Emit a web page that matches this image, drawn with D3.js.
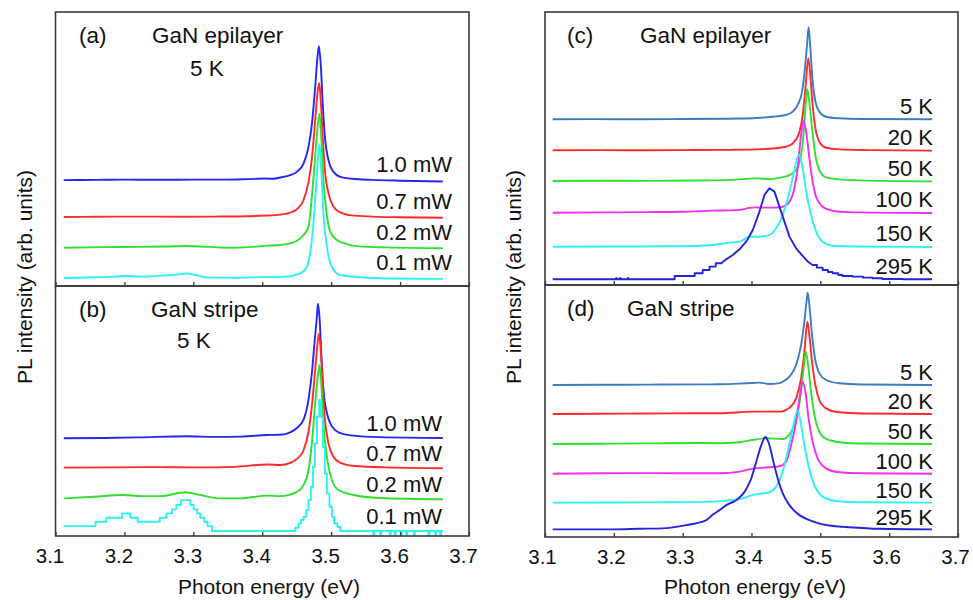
<!DOCTYPE html>
<html>
<head>
<meta charset="utf-8">
<script src="https://cdn.jsdelivr.net/npm/d3@7"></script>
<style>
body { margin: 0; background: #fff; }
svg { font-family: "Liberation Sans", Arial, sans-serif; }
</style>
</head>
<body>
<svg id="chart" width="973" height="600"></svg>
<script>
// x ticks (eV)
var energyTicks = [3.1, 3.2, 3.3, 3.4, 3.5, 3.6, 3.7];

var powerLabels = ["1.0 mW", "0.7 mW", "0.2 mW", "0.1 mW"];
var tempLabels = ["5 K", "20 K", "50 K", "100 K", "150 K", "295 K"];

// vertical shift of each trace (arb. units, peak normalised to 1)
var epiPowerOffsets = [0.79, 0.515, 0.286, 0.06];
var stripePowerOffsets = [0.734, 0.51, 0.276, 0.037];
var epiTempOffsets = [1.801, 1.464, 1.13, 0.786, 0.416, 0.062];
var stripeTempOffsets = [1.647, 1.333, 1.008, 0.686, 0.372, 0.083];

// (a) GaN epilayer, 5 K, power series  [energy eV, intensity]
var epi10mW = [[3.112,0],[3.16,0.002],[3.2,0.004],[3.25,0.003],[3.3,0.004],[3.35,0.004],[3.38,0.008],[3.405,0.012],[3.415,0.01],[3.426,0.02],[3.4406,0.037],[3.4503,0.062],[3.4599,0.124],[3.4671,0.248],[3.4721,0.42],[3.4768,0.696],[3.4802,0.92],[3.4822,1.0],[3.4851,0.846],[3.488,0.547],[3.4913,0.3],[3.4961,0.149],[3.5034,0.062],[3.5131,0.025],[3.53,0.01],[3.56,0.002],[3.6,-0.004],[3.662,-0.01]];
var epi07mW = [[3.112,0],[3.16,0.002],[3.22,0.003],[3.28,0.002],[3.33,0.003],[3.38,0.006],[3.407,0.011],[3.426,0.018],[3.4406,0.033],[3.4503,0.058],[3.4599,0.127],[3.4671,0.26],[3.4721,0.44],[3.4768,0.72],[3.4802,0.93],[3.4826,1.0],[3.4851,0.85],[3.488,0.575],[3.4913,0.325],[3.4961,0.176],[3.5034,0.077],[3.5131,0.035],[3.53,0.012],[3.56,0.003],[3.6,-0.002],[3.662,-0.006]];
var epi02mW = [[3.112,0],[3.17,0.004],[3.22,0.006],[3.26,0.009],[3.291,0.013],[3.32,0.006],[3.35,0],[3.38,0.004],[3.407,0.015],[3.426,0.02],[3.4406,0.032],[3.4503,0.052],[3.4599,0.095],[3.4671,0.157],[3.472,0.38],[3.4768,0.68],[3.4807,0.92],[3.483,1.0],[3.4859,0.8],[3.4888,0.5],[3.4928,0.28],[3.4986,0.12],[3.5083,0.057],[3.5228,0.027],[3.54,0.01],[3.58,0.002],[3.662,-0.004]];
var epi01mW = [[3.112,0],[3.15,0.004],[3.18,0.008],[3.2,0.015],[3.225,0.01],[3.25,0.016],[3.27,0.022],[3.291,0.033],[3.305,0.02],[3.32,0.003],[3.36,0.002],[3.4,0.006],[3.43,0.008],[3.455,0.035],[3.4648,0.084],[3.472,0.284],[3.4768,0.58],[3.4807,0.88],[3.483,1.0],[3.4859,0.78],[3.4888,0.48],[3.4938,0.234],[3.501,0.084],[3.513,0.022],[3.542,0.005],[3.58,-0.004],[3.662,-0.007]];

// (b) GaN stripe, 5 K, power series
var stripe10mW = [[3.112,-0.004],[3.17,-0.002],[3.22,0.002],[3.291,0.01],[3.33,0.006],[3.37,0.008],[3.407,0.02],[3.426,0.022],[3.4406,0.04],[3.4503,0.072],[3.4599,0.134],[3.4671,0.284],[3.472,0.483],[3.4758,0.707],[3.4793,0.905],[3.4807,1.0],[3.483,0.905],[3.4859,0.607],[3.4888,0.358],[3.4938,0.184],[3.501,0.084],[3.5106,0.04],[3.5323,0.015],[3.57,0.004],[3.662,-0.002]];
var stripe07mW = [[3.112,0],[3.18,0.002],[3.25,0.004],[3.3,0.002],[3.36,0.006],[3.407,0.024],[3.426,0.02],[3.4406,0.036],[3.4503,0.066],[3.4599,0.13],[3.4671,0.27],[3.472,0.46],[3.4768,0.73],[3.4802,0.93],[3.4822,1.0],[3.4851,0.86],[3.488,0.58],[3.4913,0.34],[3.4961,0.18],[3.5034,0.08],[3.5131,0.038],[3.535,0.012],[3.58,0.002],[3.662,-0.004]];
var stripe02mW = [[3.112,0.005],[3.1555,0.017],[3.199,0.03],[3.2232,0.022],[3.2522,0.022],[3.2884,0.05],[3.3101,0.03],[3.3391,0.005],[3.3681,0.005],[3.4068,0.025],[3.4261,0.022],[3.4503,0.054],[3.4599,0.104],[3.4671,0.216],[3.472,0.416],[3.4768,0.714],[3.4807,0.925],[3.483,1.0],[3.4859,0.838],[3.4888,0.565],[3.4938,0.316],[3.501,0.142],[3.5106,0.067],[3.5323,0.03],[3.57,0.008],[3.662,-0.002]];
var stripe01mW = [[3.1116,0.037],[3.158,0.069],[3.1739,0.099],[3.1967,0.132],[3.2087,0.099],[3.2193,0.069],[3.2512,0.099],[3.2609,0.132],[3.2691,0.162],[3.2754,0.194],[3.2822,0.231],[3.2957,0.194],[3.3004,0.162],[3.3054,0.132],[3.3101,0.099],[3.3159,0.069],[3.3207,0.037],[3.3271,0],[3.4478,0.025],[3.4526,0.057],[3.4561,0.082],[3.4599,0.107],[3.4638,0.157],[3.4671,0.231],[3.4706,0.331],[3.4735,0.48],[3.4764,0.654],[3.4793,0.853],[3.4826,0.978],[3.4851,0.853],[3.488,0.629],[3.4909,0.43],[3.4938,0.281],[3.4975,0.181],[3.501,0.107],[3.5043,0.057],[3.5091,0.032],[3.513,0],[3.561,-0.03],[3.5625,0],[3.571,-0.03],[3.5725,0],[3.585,-0.03],[3.5865,0],[3.592,-0.03],[3.5935,0],[3.601,-0.03],[3.6025,0],[3.609,-0.03],[3.6105,0],[3.62,-0.03],[3.6215,0],[3.641,-0.03],[3.6425,0],[3.651,-0.03],[3.6525,0],[3.658,-0.03],[3.6595,0],[3.662,0]];

// (c) GaN epilayer, temperature series
var epi5K = [[3.1112,0],[3.17,0.002],[3.24,0],[3.3,0.003],[3.36,0.006],[3.3826,0.008],[3.4068,0.014],[3.4309,0.028],[3.4503,0.047],[3.4599,0.083],[3.4671,0.156],[3.4735,0.301],[3.4772,0.52],[3.4807,0.811],[3.483,1.0],[3.4855,0.775],[3.4888,0.412],[3.4928,0.193],[3.4986,0.083],[3.5083,0.028],[3.5275,0.011],[3.56,0.003],[3.6623,0]];
var epi20K = [[3.1112,0],[3.18,0.002],[3.25,0],[3.32,0.003],[3.37,0.005],[3.4068,0.01],[3.4309,0.02],[3.4503,0.039],[3.4599,0.076],[3.4696,0.2],[3.4743,0.38],[3.4783,0.67],[3.4826,1.0],[3.4855,0.81],[3.4888,0.49],[3.4928,0.24],[3.4986,0.093],[3.5083,0.028],[3.5275,0.01],[3.57,0.002],[3.6623,-0.004]];
var epi50K = [[3.1112,0],[3.18,0.003],[3.25,0.002],[3.32,0.005],[3.37,0.012],[3.4068,0.029],[3.4261,0.02],[3.4406,0.035],[3.4551,0.065],[3.4648,0.119],[3.472,0.28],[3.4758,0.53],[3.4793,0.89],[3.4807,1.0],[3.4841,0.856],[3.488,0.568],[3.4928,0.28],[3.4986,0.119],[3.5083,0.04],[3.5275,0.018],[3.57,0.004],[3.6623,-0.004]];
var epi100K = [[3.1112,0],[3.18,0.003],[3.25,0.006],[3.3,0.01],[3.3439,0.022],[3.3826,0.03],[3.3971,0.052],[3.4068,0.058],[3.4116,0.055],[3.4309,0.055],[3.4454,0.065],[3.4551,0.12],[3.4623,0.266],[3.4671,0.484],[3.471,0.774],[3.4754,1.0],[3.4793,0.883],[3.4841,0.593],[3.4888,0.338],[3.4946,0.157],[3.5033,0.065],[3.5178,0.02],[3.54,0.006],[3.6623,-0.004]];
var epi150K = [[3.1112,0],[3.2,0.002],[3.28,0.005],[3.3149,0.008],[3.3439,0.018],[3.3681,0.044],[3.3826,0.055],[3.3971,0.109],[3.4116,0.109],[3.4261,0.128],[3.4358,0.2],[3.4454,0.346],[3.4541,0.564],[3.4609,0.782],[3.4686,1.0],[3.4735,0.891],[3.4793,0.6],[3.4865,0.346],[3.4938,0.164],[3.5033,0.055],[3.5178,0.011],[3.55,0.003],[3.6623,-0.003]];
var epi295K = [[3.1112,0],[3.203,0],[3.2031,0.012],[3.2045,0.012],[3.2046,0],[3.2085,0],[3.2086,0.012],[3.21,0.012],[3.2101,0],[3.22,0],[3.2201,0.012],[3.2215,0.012],[3.2216,0],[3.2884,0],[3.2885,0.036],[3.3174,0.036],[3.3175,0.065],[3.329,0.065],[3.3291,0.101],[3.339,0.101],[3.3391,0.138],[3.348,0.138],[3.3481,0.174],[3.356,0.174],[3.3633,0.217],[3.3729,0.264],[3.3826,0.326],[3.3923,0.409],[3.4019,0.536],[3.4116,0.736],[3.4188,0.917],[3.4261,0.989],[3.4333,0.953],[3.4406,0.79],[3.4478,0.627],[3.4551,0.464],[3.4648,0.337],[3.4743,0.254],[3.482,0.19],[3.4888,0.156],[3.495,0.156],[3.4951,0.127],[3.5033,0.127],[3.5034,0.101],[3.511,0.101],[3.5111,0.08],[3.5178,0.08],[3.5179,0.065],[3.526,0.065],[3.5261,0.047],[3.5323,0.047],[3.5324,0.036],[3.5468,0.036],[3.5469,0.029],[3.562,0.029],[3.5621,0.018],[3.5758,0.018],[3.5759,0.011],[3.59,0.011],[3.5901,0.004],[3.62,0.004],[3.6201,0],[3.6623,0]];

// (d) GaN stripe, temperature series
var stripe5K = [[3.1112,0],[3.18,0.002],[3.25,0.004],[3.32,0.006],[3.3536,0.008],[3.3826,0.015],[3.4019,0.022],[3.4116,0.025],[3.4261,0.01],[3.4406,0.02],[3.4454,0.036],[3.4551,0.09],[3.4648,0.216],[3.472,0.432],[3.4768,0.683],[3.4801,0.917],[3.4816,1.0],[3.4841,0.863],[3.488,0.54],[3.4923,0.288],[3.4986,0.126],[3.5083,0.054],[3.5275,0.018],[3.56,0.005],[3.6623,0]];
var stripe20K = [[3.1112,0],[3.18,0.003],[3.25,0.005],[3.32,0.008],[3.3536,0.008],[3.4019,0.025],[3.4406,0.025],[3.4551,0.068],[3.4648,0.169],[3.472,0.384],[3.4768,0.67],[3.4812,1.0],[3.4841,0.849],[3.488,0.562],[3.4928,0.312],[3.4986,0.151],[3.5083,0.061],[3.5275,0.018],[3.56,0.005],[3.6623,0]];
var stripe50K = [[3.1112,0],[3.18,0.003],[3.25,0.006],[3.32,0.01],[3.3536,0.008],[3.3826,0.019],[3.4019,0.043],[3.4213,0.062],[3.4454,0.054],[3.4575,0.133],[3.4657,0.278],[3.472,0.567],[3.4758,0.82],[3.4787,1.0],[3.4822,0.856],[3.4865,0.567],[3.4913,0.314],[3.4986,0.133],[3.5083,0.054],[3.5275,0.019],[3.56,0.005],[3.6623,0]];
var stripe100K = [[3.1112,0],[3.18,0.004],[3.25,0.006],[3.32,0.004],[3.3536,0.004],[3.3826,0.022],[3.4019,0.055],[3.4261,0.07],[3.4406,0.08],[3.4503,0.13],[3.4575,0.31],[3.4638,0.525],[3.4696,0.813],[3.4743,1.0],[3.4783,0.885],[3.483,0.598],[3.4888,0.345],[3.4961,0.166],[3.5083,0.058],[3.5275,0.015],[3.56,0.004],[3.6623,0]];
var stripe150K = [[3.1112,0],[3.2,0.002],[3.28,0.004],[3.3439,0.011],[3.3729,0.029],[3.3874,0.048],[3.4019,0.084],[3.4164,0.102],[3.4261,0.113],[3.4358,0.174],[3.4454,0.337],[3.4526,0.554],[3.4599,0.809],[3.4671,1.0],[3.472,0.845],[3.4768,0.627],[3.483,0.391],[3.4913,0.192],[3.5033,0.065],[3.5228,0.018],[3.56,0.004],[3.6623,0]];
var stripe295K = [[3.1112,0],[3.2,0],[3.2377,0.006],[3.27,0.01],[3.3054,0.046],[3.3343,0.1],[3.3439,0.16],[3.3536,0.208],[3.3633,0.262],[3.3778,0.316],[3.3899,0.406],[3.3996,0.551],[3.4068,0.73],[3.4141,0.91],[3.4188,0.99],[3.4203,1.0],[3.4222,0.983],[3.4261,0.91],[3.4319,0.73],[3.4381,0.551],[3.4454,0.389],[3.4551,0.262],[3.4696,0.154],[3.4841,0.1],[3.5033,0.054],[3.5275,0.03],[3.5372,0.025],[3.5855,0.006],[3.6623,0]];

var powerColors = ["#2626f2", "#ff2b2b", "#2fe02f", "#2cf2f2"];
var tempColors = ["#3c7dc2", "#ff2b2b", "#2fe02f", "#f22ef2", "#2cf2f2", "#2525d6"];


function SpectraPanel(svg, opts){
    var self = this;
    self.svg = svg;
    self.opts = opts;
    self.init();
};

SpectraPanel.prototype.init = function(){
    var self = this;
    var o = self.opts;
    self.xScale = d3.scaleLinear().domain([3.1, 3.7]).range([o.left, o.right]);
    self.yScale = d3.scaleLinear().domain([0, o.ymax]).range([o.bottom, o.top]);
    self.g = self.svg.append("g");
};

SpectraPanel.prototype.update = function(series, offsets, labels, colors, curves){
    var self = this;
    var o = self.opts;

    series.forEach(function(s, i){
        var line = d3.line()
            .x(d => self.xScale(d[0]))
            .y(d => self.yScale(d[1] + offsets[i]))
            .curve(curves[i]);
        self.g.append("path")
            .datum(s)
            .attr("d", line)
            .attr("fill", "none")
            .attr("stroke", colors[i])
            .attr("stroke-width", 1.9)
            .attr("stroke-linejoin", "round");
    });

    //trace names
    self.g.selectAll(".lbl")
        .data(labels)
        .enter()
        .append("text")
        .attr("class", "lbl")
        .attr("x", o.labelX)
        .attr("y", (d, i) => self.yScale(offsets[i]) - o.labelGap)
        .attr("text-anchor", "end")
        .attr("font-size", 22)
        .attr("fill", "#111")
        .text(d => d);

    //inward ticks along bottom edge
    var axis = d3.axisBottom(self.xScale)
        .tickValues(energyTicks)
        .tickSizeInner(-4)
        .tickSizeOuter(0)
        .tickPadding(12)
        .tickFormat(o.showLabels ? d3.format(".1f") : "");
    var ax = self.g.append("g")
        .attr("transform", "translate(0," + o.bottom + ")")
        .call(axis);
    ax.select(".domain").remove();
    ax.selectAll(".tick line").attr("stroke", "#333").attr("stroke-width", 1.3);
    ax.selectAll(".tick text")
        .attr("font-size", 20.5)
        .attr("font-family", "Liberation Sans, Arial, sans-serif")
        .attr("fill", "#111")
        .attr("dx", o.tickDx);

    self.g.append("rect")
        .attr("x", o.left)
        .attr("y", o.top)
        .attr("width", o.right - o.left)
        .attr("height", o.bottom - o.top)
        .attr("fill", "none")
        .attr("stroke", "#3a3a3a")
        .attr("stroke-width", 1.6);
};

SpectraPanel.prototype.note = function(txt, x, y){
    this.g.append("text")
        .attr("x", x)
        .attr("y", y)
        .attr("font-size", 22.5)
        .attr("fill", "#111")
        .text(txt);
};


var svg = d3.select("#chart");
var smooth = d3.curveMonotoneX;

var panelA = new SpectraPanel(svg, {left: 55.5, right: 469, top: 12, bottom: 286, ymax: 2.045, labelX: 452, labelGap: 8, showLabels: false, tickDx: -6});
panelA.update([epi10mW, epi07mW, epi02mW, epi01mW], epiPowerOffsets, powerLabels, powerColors, [smooth, smooth, smooth, smooth]);
panelA.note("(a)", 79, 43);
panelA.note("GaN epilayer", 152, 43);
panelA.note("5 K", 190, 76);

var panelB = new SpectraPanel(svg, {left: 55.5, right: 469, top: 286, bottom: 536, ymax: 1.866, labelX: 442, labelGap: 7, showLabels: true, tickDx: -6});
panelB.update([stripe10mW, stripe07mW, stripe02mW, stripe01mW], stripePowerOffsets, powerLabels, powerColors, [smooth, smooth, smooth, d3.curveStepAfter]);
panelB.note("(b)", 79, 317);
panelB.note("GaN stripe", 151, 317);
panelB.note("5 K", 177, 348);

var panelC = new SpectraPanel(svg, {left: 545, right: 958, top: 12, bottom: 285, ymax: 2.967, labelX: 933, labelGap: 5.5, showLabels: false, tickDx: -3});
panelC.update([epi5K, epi20K, epi50K, epi100K, epi150K, epi295K], epiTempOffsets, tempLabels, tempColors, [smooth, smooth, smooth, smooth, smooth, d3.curveLinear]);
panelC.note("(c)", 567, 43);
panelC.note("GaN epilayer", 640, 43);

var panelD = new SpectraPanel(svg, {left: 545, right: 958, top: 285, bottom: 537, ymax: 2.73, labelX: 933, labelGap: 4.7, showLabels: true, tickDx: -3});
panelD.update([stripe5K, stripe20K, stripe50K, stripe100K, stripe150K, stripe295K], stripeTempOffsets, tempLabels, tempColors, [smooth, smooth, smooth, smooth, smooth, smooth]);
panelD.note("(d)", 567, 316);
panelD.note("GaN stripe", 627, 316);

// axis titles
svg.append("text").attr("x", 269).attr("y", 594).attr("text-anchor", "middle")
    .attr("font-size", 21).attr("fill", "#111").text("Photon energy (eV)");
svg.append("text").attr("x", 755).attr("y", 594).attr("text-anchor", "middle")
    .attr("font-size", 21).attr("fill", "#111").text("Photon energy (eV)");
svg.append("text").attr("transform", "translate(31.5,277) rotate(-90)").attr("text-anchor", "middle")
    .attr("font-size", 21).attr("fill", "#111").text("PL intensity (arb. units)");
svg.append("text").attr("transform", "translate(521,277) rotate(-90)").attr("text-anchor", "middle")
    .attr("font-size", 21).attr("fill", "#111").text("PL intensity (arb. units)");
</script>
</body>
</html>
